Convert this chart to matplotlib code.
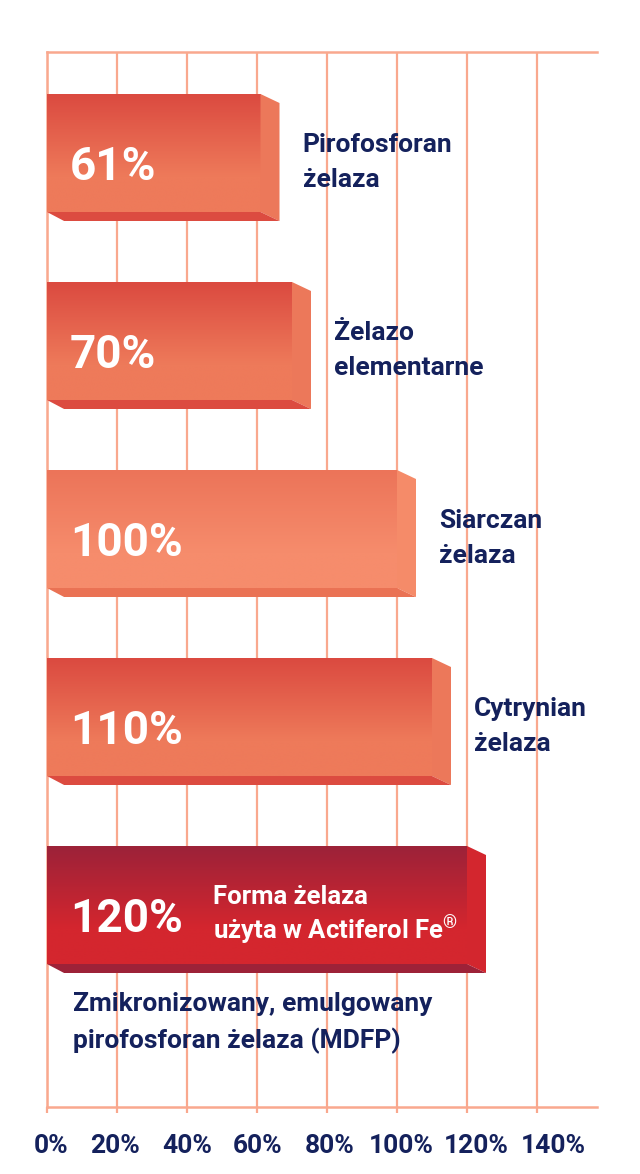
import matplotlib
matplotlib.use("Agg")
import matplotlib.pyplot as plt
from matplotlib.patches import Polygon
from matplotlib.colors import LinearSegmentedColormap
from matplotlib.transforms import ScaledTranslation
import numpy as np

# ---------------- data ----------------
categories = ["Pirofosforan\nżelaza", "Żelazo\nelementarne", "Siarczan\nżelaza",
              "Cytrynian\nżelaza", "Forma żelaza\nużyta w Actiferol Fe$^{®}$"]
values = [61, 70, 100, 110, 120]
value_labels = ["61%", "70%", "100%", "110%", "120%"]
tick_values = [0, 20, 40, 60, 80, 100, 120, 140]
tick_labels = ["0%", "20%", "40%", "60%", "80%", "100%", "120%", "140%"]
caption = "Zmikronizowany, emulgowany\npirofosforan żelaza (MDFP)"

# ---------------- style ----------------
plt.rcParams['font.family'] = ['Roboto', 'DejaVu Sans']
plt.rcParams['mathtext.fontset'] = 'custom'
plt.rcParams['mathtext.rm'] = 'Roboto:bold'
plt.rcParams['mathtext.it'] = 'Roboto:bold'
plt.rcParams['mathtext.bf'] = 'Roboto:bold'

NAVY = "#14215c"
GRID = "#f9a88e"
# (top gradient, bottom gradient, side, bottom face)
styles = [
    ("#db4a40", "#ee7a5a", "#ec785a", "#dc4b40"),
    ("#db4a40", "#ee7a5a", "#ec785a", "#dc4b40"),
    ("#ec7459", "#f68c6c", "#f58b69", "#ea7254"),
    ("#db4a40", "#ee7a5a", "#ec785a", "#dc4b40"),
    ("#9c2239", "#d4262e", "#d3262e", "#9d2238"),
]
# horizontal nudge (px) of the tick labels, as laid out in the original artwork
tick_label_shift_px = [4, -2, 0, 1, 3, 4, 9, 16]

W, H = 640, 1174
fig = plt.figure(figsize=(W / 100, H / 100), dpi=100)
ax = fig.add_axes([47 / W, (H - 1107) / H, 550 / W, 1055 / H])

c0, pitch = 153.0, 188.0
ytop = (52 - c0) / pitch
ybot = (1107 - c0) / pitch
bar_h = 118 / pitch
dx = 19 / 3.5
dy = 9 / pitch

ypos = np.arange(len(values))
bars = ax.barh(ypos, values, height=bar_h, color="none", zorder=3)

for i, (b, v) in enumerate(zip(bars, values)):
    top_c, bot_c, side_c, face_c = styles[i]
    y0 = i - bar_h / 2
    y1 = i + bar_h / 2
    cmap = LinearSegmentedColormap.from_list("g", [(0, top_c), (0.7, bot_c), (1, bot_c)])
    grad = np.linspace(0, 1, 200).reshape(-1, 1)
    im = ax.imshow(grad, cmap=cmap, aspect="auto", origin="upper",
                   extent=(0, v, y1, y0), zorder=3, interpolation="bilinear")
    im.set_clip_path(b)
    # side face
    ax.add_patch(Polygon([(v, y0), (v + dx, y0 + dy), (v + dx, y1 + dy), (v, y1)],
                         closed=True, facecolor=side_c, edgecolor="none", zorder=3))
    # bottom face
    ax.add_patch(Polygon([(0, y1), (v, y1), (v + dx, y1 + dy), (dx * 0.9, y1 + dy)],
                         closed=True, facecolor=face_c, edgecolor="none", zorder=3))
    # value label
    ax.text(23 / 3.5, i + 27 / pitch, value_labels[i], color="white",
            fontsize=33, fontweight="bold", va="baseline", ha="left", zorder=5)
    if i < len(values) - 1:
        ax.text(v + 42 / 3.5, i + 34 / pitch, categories[i], color=NAVY,
                fontsize=19, fontweight="bold", va="baseline", ha="left",
                linespacing=1.6, zorder=5)
    else:
        ax.text(166 / 3.5, i + 34 / pitch, categories[i], color="white",
                fontsize=18.5, fontweight="bold", va="baseline", ha="left",
                linespacing=1.15, zorder=5)

ax.text(26 / 3.5, (1048 - c0) / pitch, caption, color=NAVY, fontsize=19,
        fontweight="bold", va="baseline", ha="left", linespacing=1.55, zorder=5)

ax.set_xlim(0, 550 / 3.5)
ax.set_ylim(ybot, ytop)
ax.set_xticks(tick_values)
ax.set_xticklabels(tick_labels)
ax.set_yticks([])
ax.grid(axis="x", color=GRID, linewidth=1.6, zorder=0)
ax.set_axisbelow(True)
for s in ["top", "bottom", "left"]:
    ax.spines[s].set_color(GRID)
    ax.spines[s].set_linewidth(1.8)
ax.spines["right"].set_visible(False)
ax.tick_params(axis="x", length=4.5, width=1.6, color=GRID, pad=15,
               labelsize=19, labelcolor=NAVY)
for t, sh in zip(ax.get_xticklabels(), tick_label_shift_px):
    t.set_fontweight("bold")
    t.set_transform(t.get_transform() + ScaledTranslation(sh / 100, 0, fig.dpi_scale_trans))

fig.savefig("out.png", dpi=100, facecolor="white")
